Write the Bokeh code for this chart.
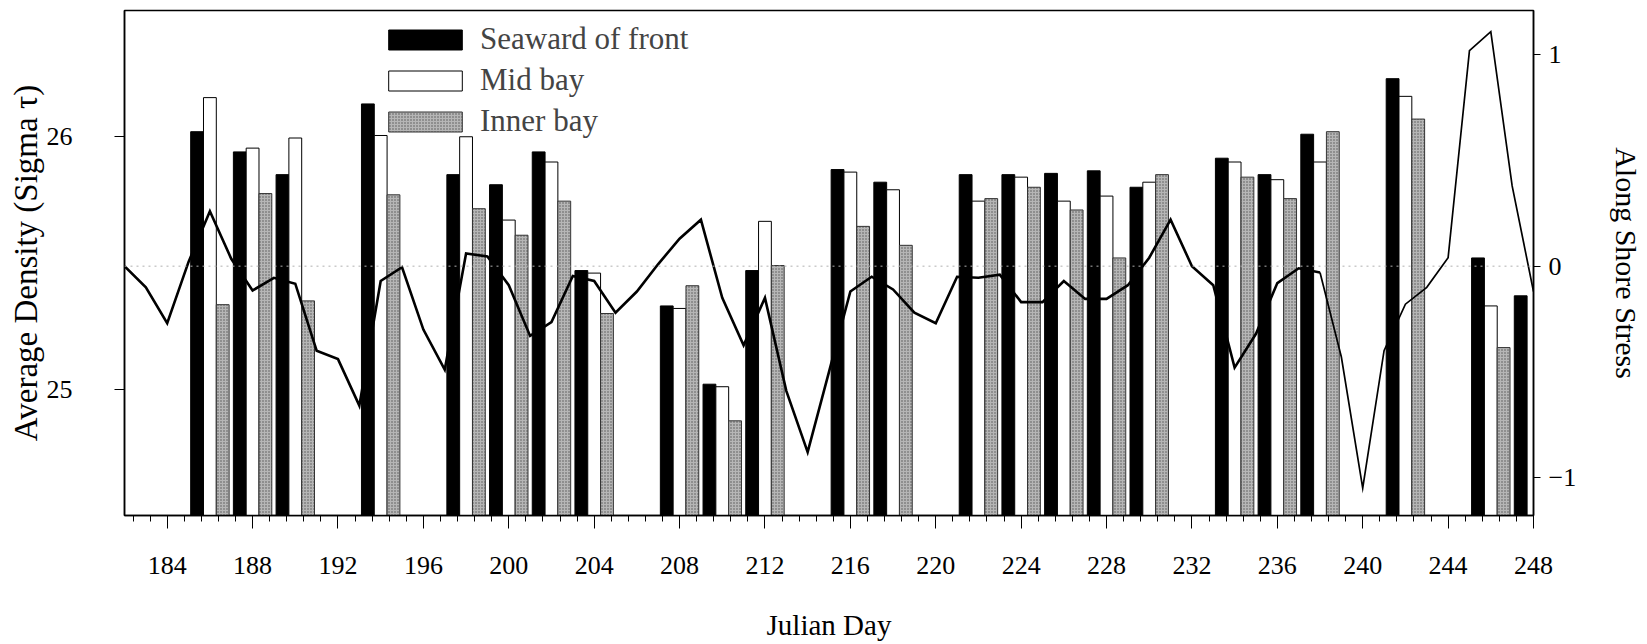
import numpy as np
from bokeh.plotting import figure
from bokeh.models import (Range1d, LinearAxis, FixedTicker, ColumnDataSource,
                          Legend, LegendItem, Span)
from bokeh.transform import dodge
from bokeh.embed import file_html
from bokeh.resources import INLINE

# ---- data ----
days = [186, 188, 190, 194, 198, 200, 202, 204, 208, 210, 212, 216,
        218, 222, 224, 226, 228, 230, 234, 236, 238, 242, 246, 248]
seaward = [26.02, 25.94, 25.85, 26.13, 25.85, 25.81, 25.94, 25.47, 25.33, 25.02, 25.47, 25.87,
           25.82, 25.85, 25.85, 25.855, 25.865, 25.80, 25.915, 25.85, 26.01, 26.23, 25.52, 25.37]
mid_bay = [26.155, 25.955, 25.995, 26.005, 26.00, 25.67, 25.90, 25.46, 25.32, 25.01, 25.665, 25.86,
           25.79, 25.745, 25.84, 25.745, 25.765, 25.82, 25.90, 25.83, 25.90, 26.16, 25.33, float("nan")]
inner_bay = [25.335, 25.775, 25.35, 25.77, 25.715, 25.61, 25.745, 25.30, 25.41, 24.875, 25.49, 25.645,
             25.57, 25.755, 25.80, 25.71, 25.52, 25.85, 25.84, 25.755, 26.02, 26.07, 25.165, float("nan")]

stress_days = list(range(182, 249))
stress = [0.0, -0.10, -0.27, 0.02, 0.26, 0.035, -0.115, -0.055, -0.083, -0.40,
          -0.44, -0.66, -0.07, -0.005, -0.30, -0.49, 0.06, 0.046, -0.09, -0.33,
          -0.265, -0.046, -0.07, -0.22, -0.12, 0.01, 0.13, 0.22, -0.15, -0.375,
          -0.15, -0.59, -0.88, -0.50, -0.12, -0.05, -0.11, -0.22, -0.27, -0.05,
          -0.055, -0.04, -0.17, -0.17, -0.07, -0.155, -0.155, -0.09, 0.04, 0.22,
          0.0, -0.09, -0.48, -0.32, -0.08, -0.01, -0.03, -0.43, -1.05, -0.40,
          -0.18, -0.10, 0.04, 1.02, 1.11, 0.38, -0.12]

x_ticks = list(range(184, 249, 4))
x_minor_ticks = [round(v, 2) for v in np.arange(182.4, 248.01, 0.8)]
density_ticks = [25, 26]
stress_ticks = [-1, 0, 1]

FONT = "Liberation Serif"

src = ColumnDataSource(dict(day=days, seaward=seaward, mid=mid_bay, inner=inner_bay))

p = figure(width=1647, height=644, output_backend="svg", toolbar_location=None,
           x_range=Range1d(182, 248), y_range=Range1d(24.5, 26.5),
           min_border_left=124, min_border_right=114, min_border_top=10,
           min_border_bottom=129)
p.extra_y_ranges = {"stress": Range1d(-1.18, 1.21)}
p.xgrid.visible = False
p.ygrid.visible = False
p.outline_line_color = "black"
p.outline_line_width = 1.5
p.background_fill_color = "white"
p.border_fill_color = "white"

bar_w = 0.6
r_sea = p.vbar(x=dodge("day", -0.6, range=p.x_range), width=bar_w, bottom=24.5, top="seaward",
               source=src, fill_color="black", line_color="black", line_width=1)
r_mid = p.vbar(x=dodge("day", 0.0, range=p.x_range), width=bar_w, bottom=24.5, top="mid",
               source=src, fill_color="white", line_color="black", line_width=1)
r_inn = p.vbar(x=dodge("day", 0.6, range=p.x_range), width=bar_w, bottom=24.5, top="inner",
               source=src, fill_color="#b6b6b6", line_color="#333333", line_width=1,
               hatch_pattern=".", hatch_scale=3, hatch_color="#555555", hatch_weight=1)

zero = Span(location=0, dimension="width", y_range_name="stress",
            line_color="#b0b0b0", line_width=1, line_dash="2 4")
p.add_layout(zero)

# stress line: heavier stroke up to day 238, thinner afterwards (as in the print)
split = stress_days.index(238)
p.line(stress_days[:split + 1], stress[:split + 1], y_range_name="stress",
       line_color="black", line_width=2.6, line_join="miter")
p.line(stress_days[split:], stress[split:], y_range_name="stress",
       line_color="black", line_width=1.7, line_join="miter")

# axes
xa = p.xaxis[0]
xa.ticker = FixedTicker(ticks=x_ticks, minor_ticks=x_minor_ticks)
xa.axis_label = "Julian Day"
ya = p.yaxis[0]
ya.ticker = FixedTicker(ticks=density_ticks)
ya.axis_label = "Average Density (Sigma \u03c4)"

ra = LinearAxis(y_range_name="stress", ticker=FixedTicker(ticks=stress_ticks),
                axis_label="Along Shore Stress")
p.add_layout(ra, "right")

for ax in (xa, ya, ra):
    ax.axis_line_color = "black"
    ax.axis_line_width = 1.5
    ax.major_tick_line_color = "black"
    ax.minor_tick_line_color = "black"
    ax.major_tick_in = 0
    ax.minor_tick_in = 0
    ax.major_label_text_font = FONT
    ax.major_label_text_font_size = "26px"
    ax.major_label_text_color = "black"
    ax.axis_label_text_font = FONT
    ax.axis_label_text_font_size = "30px"
    ax.axis_label_text_font_style = "normal"
    ax.axis_label_text_color = "black"

xa.major_tick_out = 13
xa.minor_tick_out = 6
xa.major_label_standoff = 28
xa.axis_label_standoff = 32
xa.axis_label_text_font_size = "29px"

ya.major_tick_out = 10
ya.minor_tick_line_color = None
ya.major_label_standoff = 42
ya.axis_label_standoff = 0
ya.axis_label_text_font_size = "33px"

ra.major_tick_out = 7
ra.minor_tick_line_color = None
ra.major_label_standoff = 8
ra.axis_label_standoff = 31
ra.axis_label_text_font_size = "30px"

legend = Legend(items=[LegendItem(label="Seaward of front", renderers=[r_sea]),
                       LegendItem(label="Mid bay", renderers=[r_mid]),
                       LegendItem(label="Inner bay", renderers=[r_inn])],
                location=(255, 376), glyph_width=92, glyph_height=25,
                label_text_font=FONT, label_text_font_size="31px",
                label_standoff=9, spacing=5, padding=0, margin=0,
                border_line_color=None, background_fill_alpha=0)
p.add_layout(legend, "center")

open("out.html", "w").write(file_html(p, INLINE))
